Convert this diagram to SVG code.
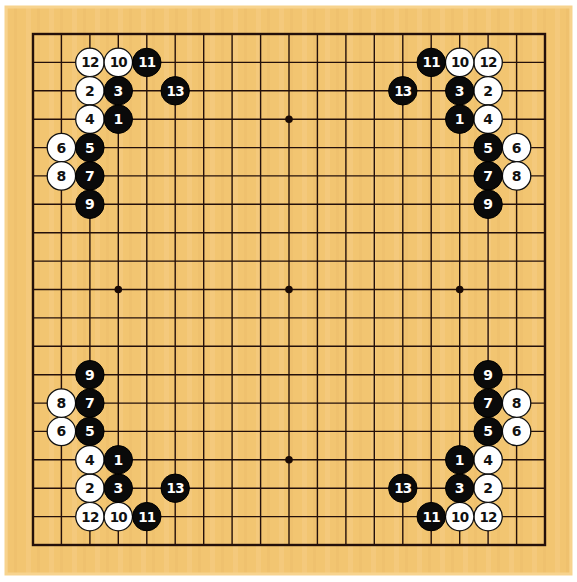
<svg xmlns="http://www.w3.org/2000/svg" width="577" height="582" viewBox="0 0 577 582">
<defs>
<pattern id="wood" x="0" y="0" width="23" height="10" patternUnits="userSpaceOnUse">
<rect width="23" height="10" fill="#F2C571"/>
<rect x="3" width="5" height="10" fill="#F5CB7E" opacity="0.8"/>
<rect x="14" width="3" height="10" fill="#EDBE6C" opacity="0.6"/>
</pattern>
<style>
.grid{stroke:#24100a;stroke-width:1.4;fill:none}
.edge{stroke:#24100a;stroke-width:2.4;fill:none}
.star{fill:#1a0a04}
.w circle{fill:#fff;stroke:#111;stroke-width:1.3}
.b circle{fill:#0a0a0a;stroke:#000;stroke-width:1}
.stone text{font-family:"DejaVu Sans","Liberation Sans",sans-serif;font-weight:bold;font-size:14px;text-anchor:middle}
.w text{fill:#111}
.b text{fill:#fff}
.two text{font-size:13.5px;letter-spacing:-0.8px}
</style>
</defs>
<rect width="577" height="582" fill="#fff"/>
<rect x="6" y="7" width="565" height="567" fill="url(#wood)"/>
<rect x="6" y="7" width="565" height="567" fill="none" stroke="#F7D38E" stroke-width="3"/>
<g id="board-grid">
<path class="grid" d="M61.4 34V545M89.9 34V545M118.3 34V545M146.8 34V545M175.2 34V545M203.7 34V545M232.1 34V545M260.6 34V545M289 34V545M317.4 34V545M345.9 34V545M374.3 34V545M402.8 34V545M431.2 34V545M459.7 34V545M488.1 34V545M516.6 34V545"/>
<path class="grid" d="M33 62.4H545M33 90.8H545M33 119.2H545M33 147.6H545M33 175.9H545M33 204.3H545M33 232.7H545M33 261.1H545M33 289.5H545M33 317.9H545M33 346.3H545M33 374.7H545M33 403.1H545M33 431.4H545M33 459.8H545M33 488.2H545M33 516.6H545"/>
<rect class="edge" x="33" y="34" width="512" height="511"/>
<circle class="star" cx="289" cy="119.2" r="3.8"/>
<circle class="star" cx="118.3" cy="289.5" r="3.8"/>
<circle class="star" cx="289" cy="289.5" r="3.8"/>
<circle class="star" cx="459.7" cy="289.5" r="3.8"/>
<circle class="star" cx="289" cy="459.8" r="3.8"/>
</g>
<g id="stones-top-left">
<g id="tl-w12" class="stone w two" transform="translate(89.9 62.4)"><circle r="14.2"/><text y="5">12</text></g>
<g id="tl-w10" class="stone w two" transform="translate(118.3 62.4)"><circle r="14.2"/><text y="5">10</text></g>
<g id="tl-b11" class="stone b two" transform="translate(146.8 62.4)"><circle r="14.2"/><text y="5">11</text></g>
<g id="tl-w2" class="stone w" transform="translate(89.9 90.8)"><circle r="14.2"/><text y="5">2</text></g>
<g id="tl-b3" class="stone b" transform="translate(118.3 90.8)"><circle r="14.2"/><text y="5">3</text></g>
<g id="tl-b13" class="stone b two" transform="translate(175.2 90.8)"><circle r="14.2"/><text y="5">13</text></g>
<g id="tl-w4" class="stone w" transform="translate(89.9 119.2)"><circle r="14.2"/><text y="5">4</text></g>
<g id="tl-b1" class="stone b" transform="translate(118.3 119.2)"><circle r="14.2"/><text y="5">1</text></g>
<g id="tl-w6" class="stone w" transform="translate(61.4 147.6)"><circle r="14.2"/><text y="5">6</text></g>
<g id="tl-b5" class="stone b" transform="translate(89.9 147.6)"><circle r="14.2"/><text y="5">5</text></g>
<g id="tl-w8" class="stone w" transform="translate(61.4 175.9)"><circle r="14.2"/><text y="5">8</text></g>
<g id="tl-b7" class="stone b" transform="translate(89.9 175.9)"><circle r="14.2"/><text y="5">7</text></g>
<g id="tl-b9" class="stone b" transform="translate(89.9 204.3)"><circle r="14.2"/><text y="5">9</text></g>
</g>
<g id="stones-top-right">
<g id="tr-w12" class="stone w two" transform="translate(488.1 62.4)"><circle r="14.2"/><text y="5">12</text></g>
<g id="tr-w10" class="stone w two" transform="translate(459.7 62.4)"><circle r="14.2"/><text y="5">10</text></g>
<g id="tr-b11" class="stone b two" transform="translate(431.2 62.4)"><circle r="14.2"/><text y="5">11</text></g>
<g id="tr-w2" class="stone w" transform="translate(488.1 90.8)"><circle r="14.2"/><text y="5">2</text></g>
<g id="tr-b3" class="stone b" transform="translate(459.7 90.8)"><circle r="14.2"/><text y="5">3</text></g>
<g id="tr-b13" class="stone b two" transform="translate(402.8 90.8)"><circle r="14.2"/><text y="5">13</text></g>
<g id="tr-w4" class="stone w" transform="translate(488.1 119.2)"><circle r="14.2"/><text y="5">4</text></g>
<g id="tr-b1" class="stone b" transform="translate(459.7 119.2)"><circle r="14.2"/><text y="5">1</text></g>
<g id="tr-w6" class="stone w" transform="translate(516.6 147.6)"><circle r="14.2"/><text y="5">6</text></g>
<g id="tr-b5" class="stone b" transform="translate(488.1 147.6)"><circle r="14.2"/><text y="5">5</text></g>
<g id="tr-w8" class="stone w" transform="translate(516.6 175.9)"><circle r="14.2"/><text y="5">8</text></g>
<g id="tr-b7" class="stone b" transform="translate(488.1 175.9)"><circle r="14.2"/><text y="5">7</text></g>
<g id="tr-b9" class="stone b" transform="translate(488.1 204.3)"><circle r="14.2"/><text y="5">9</text></g>
</g>
<g id="stones-bottom-left">
<g id="bl-w12" class="stone w two" transform="translate(89.9 516.6)"><circle r="14.2"/><text y="5">12</text></g>
<g id="bl-w10" class="stone w two" transform="translate(118.3 516.6)"><circle r="14.2"/><text y="5">10</text></g>
<g id="bl-b11" class="stone b two" transform="translate(146.8 516.6)"><circle r="14.2"/><text y="5">11</text></g>
<g id="bl-w2" class="stone w" transform="translate(89.9 488.2)"><circle r="14.2"/><text y="5">2</text></g>
<g id="bl-b3" class="stone b" transform="translate(118.3 488.2)"><circle r="14.2"/><text y="5">3</text></g>
<g id="bl-b13" class="stone b two" transform="translate(175.2 488.2)"><circle r="14.2"/><text y="5">13</text></g>
<g id="bl-w4" class="stone w" transform="translate(89.9 459.8)"><circle r="14.2"/><text y="5">4</text></g>
<g id="bl-b1" class="stone b" transform="translate(118.3 459.8)"><circle r="14.2"/><text y="5">1</text></g>
<g id="bl-w6" class="stone w" transform="translate(61.4 431.4)"><circle r="14.2"/><text y="5">6</text></g>
<g id="bl-b5" class="stone b" transform="translate(89.9 431.4)"><circle r="14.2"/><text y="5">5</text></g>
<g id="bl-w8" class="stone w" transform="translate(61.4 403.1)"><circle r="14.2"/><text y="5">8</text></g>
<g id="bl-b7" class="stone b" transform="translate(89.9 403.1)"><circle r="14.2"/><text y="5">7</text></g>
<g id="bl-b9" class="stone b" transform="translate(89.9 374.7)"><circle r="14.2"/><text y="5">9</text></g>
</g>
<g id="stones-bottom-right">
<g id="br-w12" class="stone w two" transform="translate(488.1 516.6)"><circle r="14.2"/><text y="5">12</text></g>
<g id="br-w10" class="stone w two" transform="translate(459.7 516.6)"><circle r="14.2"/><text y="5">10</text></g>
<g id="br-b11" class="stone b two" transform="translate(431.2 516.6)"><circle r="14.2"/><text y="5">11</text></g>
<g id="br-w2" class="stone w" transform="translate(488.1 488.2)"><circle r="14.2"/><text y="5">2</text></g>
<g id="br-b3" class="stone b" transform="translate(459.7 488.2)"><circle r="14.2"/><text y="5">3</text></g>
<g id="br-b13" class="stone b two" transform="translate(402.8 488.2)"><circle r="14.2"/><text y="5">13</text></g>
<g id="br-w4" class="stone w" transform="translate(488.1 459.8)"><circle r="14.2"/><text y="5">4</text></g>
<g id="br-b1" class="stone b" transform="translate(459.7 459.8)"><circle r="14.2"/><text y="5">1</text></g>
<g id="br-w6" class="stone w" transform="translate(516.6 431.4)"><circle r="14.2"/><text y="5">6</text></g>
<g id="br-b5" class="stone b" transform="translate(488.1 431.4)"><circle r="14.2"/><text y="5">5</text></g>
<g id="br-w8" class="stone w" transform="translate(516.6 403.1)"><circle r="14.2"/><text y="5">8</text></g>
<g id="br-b7" class="stone b" transform="translate(488.1 403.1)"><circle r="14.2"/><text y="5">7</text></g>
<g id="br-b9" class="stone b" transform="translate(488.1 374.7)"><circle r="14.2"/><text y="5">9</text></g>
</g>
</svg>
